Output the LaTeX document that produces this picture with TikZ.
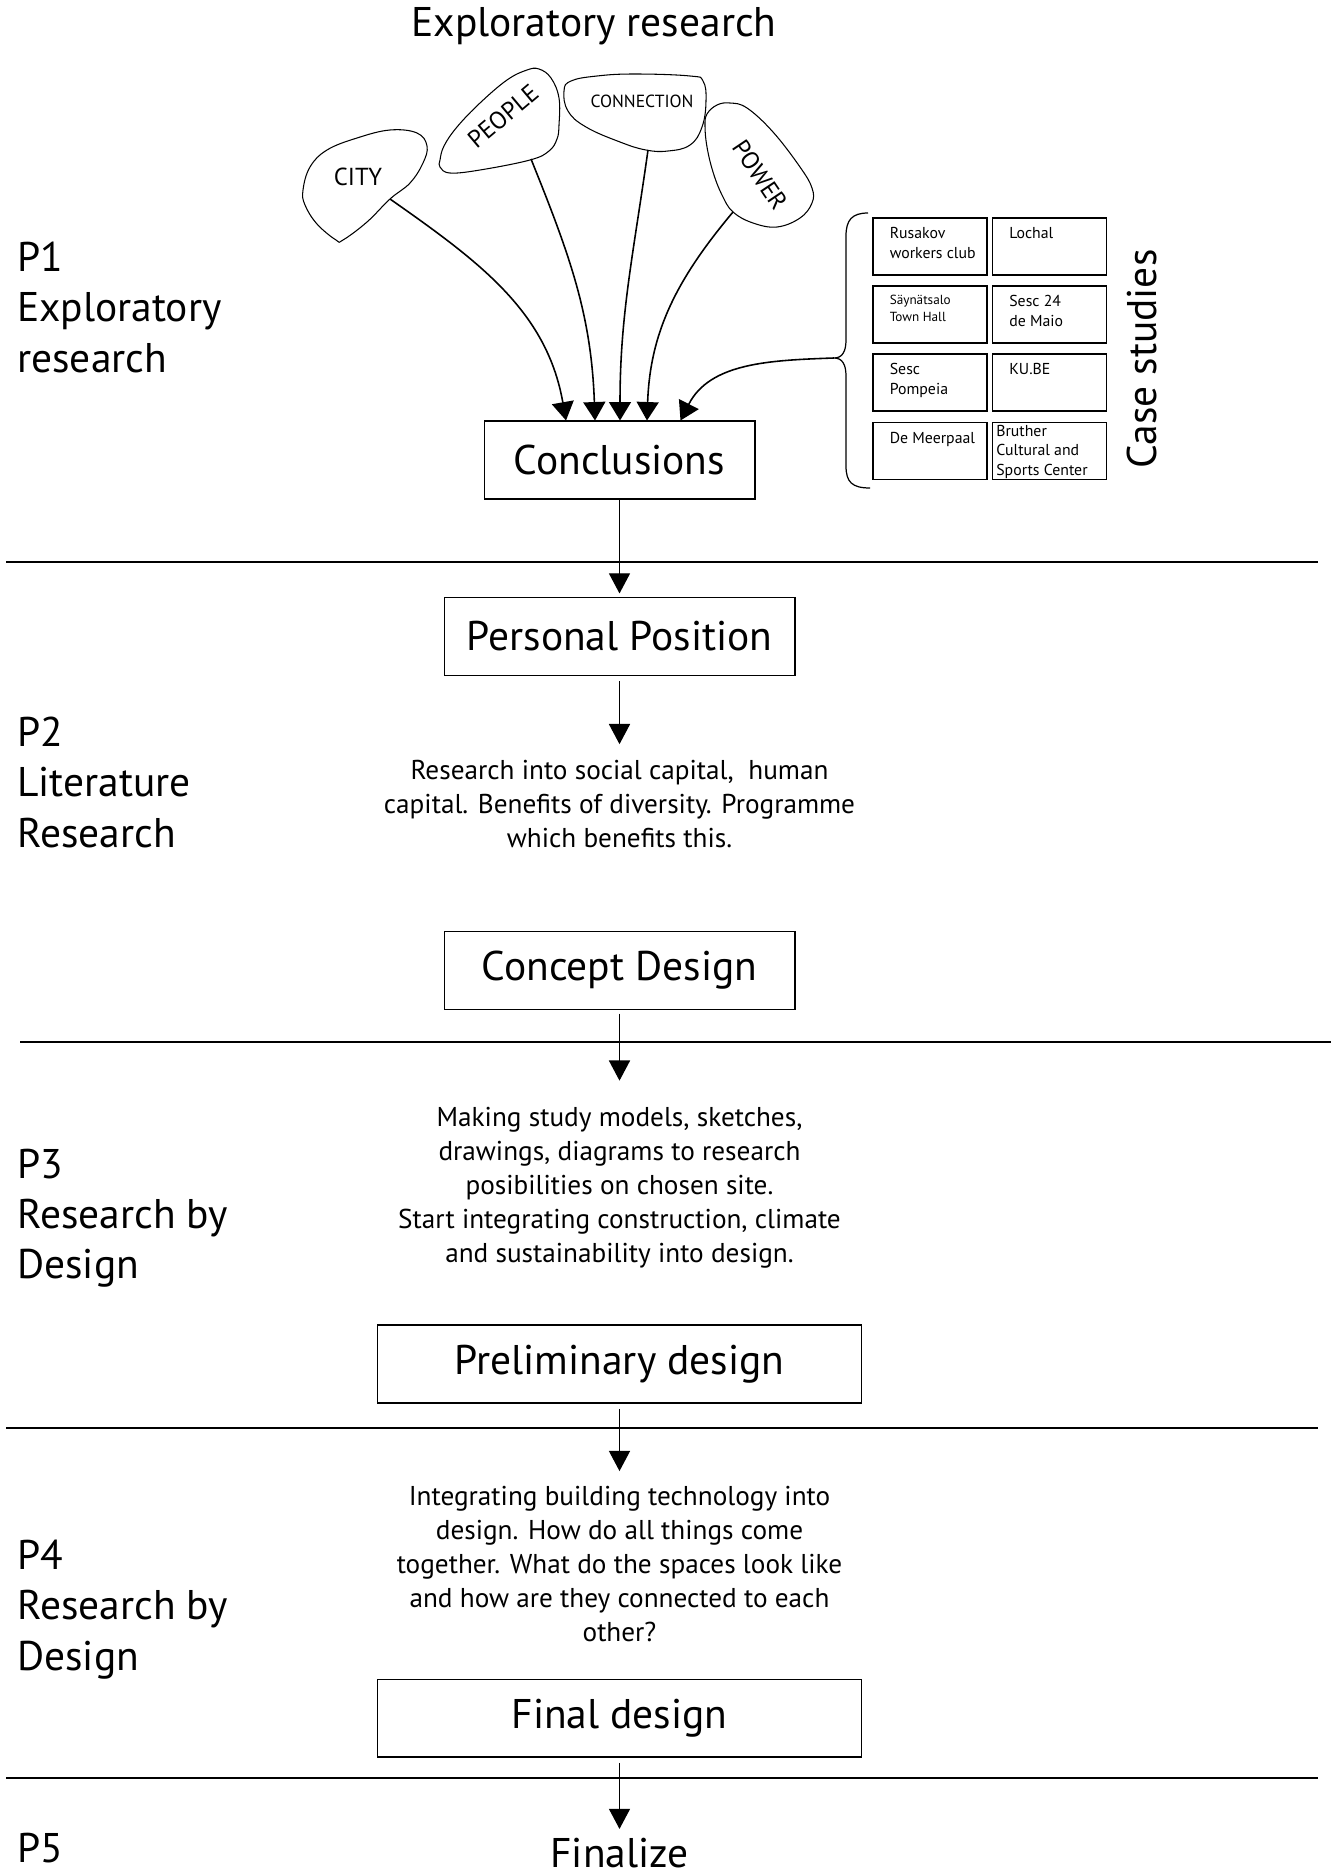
\documentclass[tikz,border=0pt]{standalone}
\usepackage{fontspec}
\setmainfont{PT Sans}
\usepackage{tikz}
\usetikzlibrary{arrows.meta, positioning}

\begin{document}
\begin{tikzpicture}[x=0.02cm, y=-0.02cm,
  box/.style={draw, line width=0.6pt, minimum height=1.56cm, font=\fontsize{23.6}{28.5}\selectfont},
  big/.style={font=\fontsize{23.6}{28.5}\selectfont, align=left, inner sep=0pt},
  body/.style={font=\fontsize{15.5}{19.4}\selectfont, align=center, inner sep=0pt},
  casebox/.style={draw, line width=0.6pt, minimum width=2.28cm, minimum height=1.14cm},
  casetext/.style={font=\fontsize{9}{11.3}\selectfont, align=left, inner sep=0pt,
                   anchor=north west, xshift=0.34cm, yshift=-0.19cm},
  blob/.style={draw, line width=0.6pt},
  word/.style={font=\fontsize{14}{16}\selectfont, inner sep=0pt},
  arrow/.style={-{Triangle[length=11.5pt,width=12pt]}, line width=0.8pt},
  feed/.style={-{Triangle[length=10.5pt,width=12.5pt]}, line width=0.9pt},
  divider/.style={line width=0.6pt},
]
\useasboundingbox (0,0) rectangle (1335,1876);

% Title and phases
\node[big] (title) at (594,26) {Exploratory research};
\node[big, anchor=north west] (p1) at (17,242) {P1\\Exploratory\\research};
\node[big, anchor=north west] (p2) at (17,717) {P2\\Literature\\Research};
\node[big, anchor=north west] (p3) at (17,1149) {P3\\Research by\\Design};
\node[big, anchor=north west] (p4) at (17,1540) {P4\\Research by\\Design};
\node[big, anchor=north west] (p5) at (17,1833) {P5};

% Dividers
\draw[divider] (6,562) -- (1318,562);
\draw[divider] (20,1042) -- (1331,1042);
\draw[divider] (6,1428) -- (1318,1428);
\draw[divider] (6,1778) -- (1318,1778);

% Themes
\draw[blob] plot[smooth cycle, tension=0.65] coordinates {(303,190) (310,167) (327,150) (357,138) (390,130) (417,133) (427,146) (423,163) (410,183) (390,199) (367,222) (343,240) (336,240) (317,224) (305,205)};
\draw[blob] plot[smooth cycle, tension=0.65] coordinates {(440,160) (444,146) (457,127) (480,103) (507,80) (527,70) (539,69) (551,78) (559,98) (559,125) (557,139) (549,151) (530,160) (480,170) (450,173) (440,167)};
\draw[blob] plot[smooth cycle, tension=0.7] coordinates {(564,91) (571,81) (597,76) (635,74) (690,76) (703,81) (706,101) (702,127) (690,145) (668,151) (646,150) (620,142) (586,127) (568,111)};
\draw[blob] plot[smooth cycle, tension=0.65] coordinates {(707,114) (717,105) (730,103) (747,108) (773,132) (800,167) (812,188) (812,203) (800,218) (777,227) (753,223) (733,212) (722,195) (713,172) (707,147) (705,126)};
\node[word] (city) at (358,177) {CITY};
\node[word, rotate=40] (people) at (503,116) {PEOPLE};
\node[word, font=\fontsize{10}{12}\selectfont] (conn) at (642,101) {CONNECTION};
\node[word, rotate=-56] (power) at (760,175) {POWER};
\coordinate (citystem) at (390,199);
\coordinate (peoplestem) at (531,159);
\coordinate (connstem) at (648,150);
\coordinate (powerstem) at (733,212);

% Case studies
\node[casebox, label={[casetext]north west:{Rusakov\\workers club}}] (rusakov) at (930,246.5) {};
\node[casebox, label={[casetext]north west:{Lochal}}] (lochal) at (1049.5,246.5) {};
\node[casebox, label={[casetext, font=\fontsize{7.5}{9.6}\selectfont]north west:{Säynätsalo\\Town Hall}}] (saynatsalo) at (930,314.5) {};
\node[casebox, label={[casetext]north west:{Sesc 24\\de Maio}}] (maio) at (1049.5,314.5) {};
\node[casebox, label={[casetext]north west:{Sesc\\Pompeia}}] (pompeia) at (930,382.5) {};
\node[casebox, label={[casetext]north west:{KU.BE}}] (kube) at (1049.5,382.5) {};
\node[casebox, label={[casetext]north west:{De Meerpaal}}] (meerpaal) at (930,451) {};
\node[casebox, label={[casetext, xshift=-0.26cm, yshift=0.14cm]north west:{Bruther\\Cultural and\\Sports Center}}] (bruther) at (1049.5,451) {};
\node[big, rotate=90] (cases) at (1142,359) {Case studies};
\draw[line width=0.7pt] (868,213) .. controls (852,213) and (846,220) .. (846,236) -- (846,340)
  .. controls (846,352) and (842,358) .. (834,358) .. controls (842,358) and (846,364) .. (846,376)
  -- (846,466) .. controls (846,482) and (852,488) .. (870,488);
\coordinate (bracetip) at (834,358);

% Boxes
\node[box, minimum width=5.42cm] (concl) at (619.5,460) {Conclusions};
\node[box, minimum width=7.02cm] (pos) at (619.5,636.5) {Personal Position};
\node[body, anchor=north] (lit) at (619.5,760) {Research into social capital,\ \ human\\capital. Benefits of diversity. Programme\\which benefits this.};
\node[box, minimum width=7.02cm] (concept) at (619.5,970.5) {Concept Design};
\node[body, anchor=north] (resdes) at (619.5,1107) {Making study models, sketches,\\drawings, diagrams to research\\posibilities on chosen site.\\Start integrating construction, climate\\and sustainability into design.};
\node[box, minimum width=9.7cm] (prelim) at (619.5,1364) {Preliminary design};
\node[body, anchor=north] (tech) at (619.5,1486) {Integrating building technology into\\design. How do all things come\\together. What do the spaces look like\\and how are they connected to each\\other?};
\node[box, minimum width=9.7cm] (final) at (619.5,1718) {Final design};
\node[big] (fin) at (619.5,1853) {Finalize};

% Arrows
\draw[feed] (citystem) to[out=-35, in=100] ([xshift=-1.07cm]concl.north);
\draw[feed] (peoplestem) to[out=-68, in=92] ([xshift=-0.49cm]concl.north);
\draw[feed] (connstem) to[out=-98, in=90] ([xshift=0.01cm]concl.north);
\draw[feed] (powerstem) to[out=-130, in=88] ([xshift=0.55cm]concl.north);
\draw[feed] (bracetip) to[out=182, in=63] ([xshift=1.22cm]concl.north);
\draw[arrow, shorten >=2pt] (concl) -- (pos);
\draw[arrow, shorten <=3pt, shorten >=9pt] (pos) -- (lit);
\draw[arrow, shorten <=2pt, shorten >=15pt] (concept) -- (resdes);
\draw[arrow, shorten <=3pt, shorten >=8.5pt] (prelim) -- (tech);
\draw[arrow, shorten <=3pt, shorten >=5pt] (final) -- (fin);
\end{tikzpicture}
\end{document}
